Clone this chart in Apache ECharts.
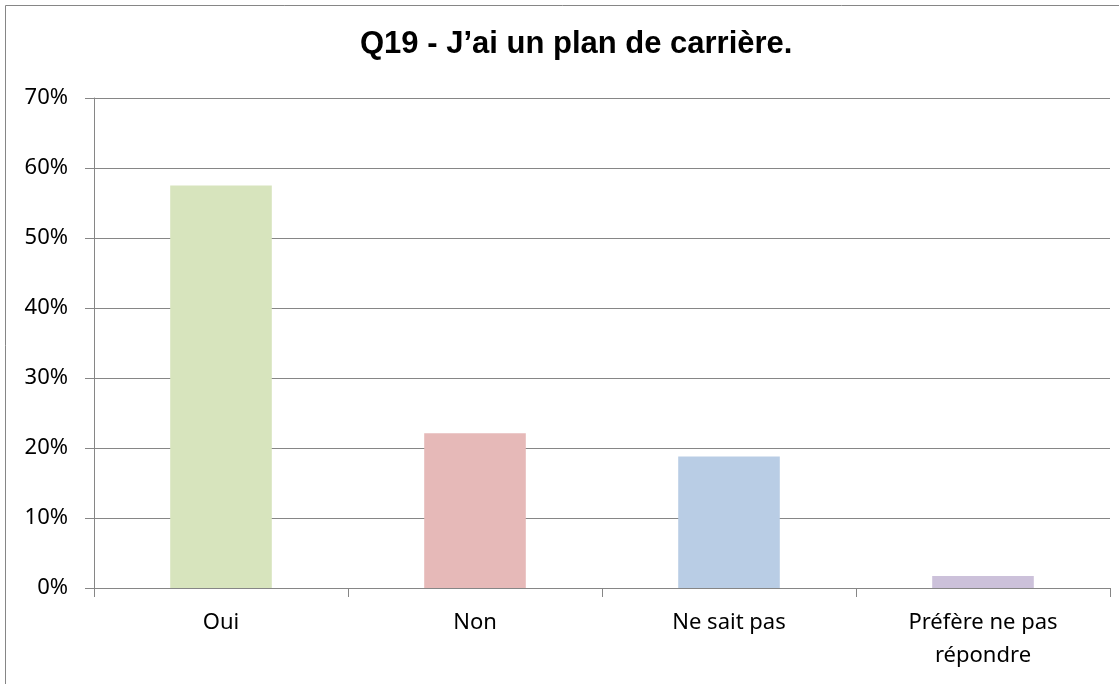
<!DOCTYPE html>
<html>
<head>
<meta charset="utf-8">
<script src="https://cdn.jsdelivr.net/npm/echarts@6/dist/echarts.min.js"></script>
<style>
  html, body { margin: 0; padding: 0; background: #fff; }
  #main { width: 1119px; height: 684px; }
</style>
</head>
<body>
<div id="main"></div>
<script>
// data
var categories = ['Oui', 'Non', 'Ne sait pas', 'Préfère ne pas\nrépondre'];
var values = [57.5, 22.1, 18.8, 1.7];
var barColors = ['#D7E4BD', '#E6B9B8', '#B9CDE5', '#CCC1DA'];
var yTicks = [0, 10, 20, 30, 40, 50, 60, 70];

var myChart = echarts.init(document.getElementById('main'));

myChart.setOption({
    animation: false,
    title: {
        text: 'Q19 - J’ai un plan de carrière.',
        left: 355,
        top: 24,
        textStyle: { fontFamily: 'Liberation Sans', fontWeight: 'bold', fontSize: 31, color: '#000' }
    },
    graphic: [{
        type: 'rect',
        shape: { x: 5.5, y: 5.5, width: 1300, height: 900 },
        style: { fill: 'none', stroke: '#868686', lineWidth: 1 },
        silent: true
    }],
    grid: { left: 94, right: 9, top: 98, bottom: 96 },
    xAxis: {
        type: 'category',
        data: categories,
        axisLine: { lineStyle: { color: '#868686', width: 1 } },
        axisTick: { show: true, length: 9, lineStyle: { color: '#868686' } },
        axisLabel: {
            interval: 0,
            margin: 18,
            color: '#000',
            fontFamily: 'Noto Sans',
            fontSize: 22,
            lineHeight: 33
        },
        splitLine: { show: false }
    },
    yAxis: {
        type: 'value',
        min: yTicks[0],
        max: yTicks[yTicks.length - 1],
        interval: 10,
        axisLine: { show: true, lineStyle: { color: '#868686', width: 1 } },
        axisTick: { show: true, length: 9, lineStyle: { color: '#868686' } },
        axisLabel: {
            margin: 26,
            color: '#000',
            fontFamily: 'Noto Sans',
            fontSize: 22,
            formatter: '{value}%'
        },
        splitLine: { show: true, lineStyle: { color: '#868686', width: 1 } }
    },
    series: [{
        type: 'bar',
        barWidth: '40%',
        data: values.map(function (v, i) {
            return { value: v, itemStyle: { color: barColors[i] } };
        })
    }]
});
</script>
</body>
</html>
